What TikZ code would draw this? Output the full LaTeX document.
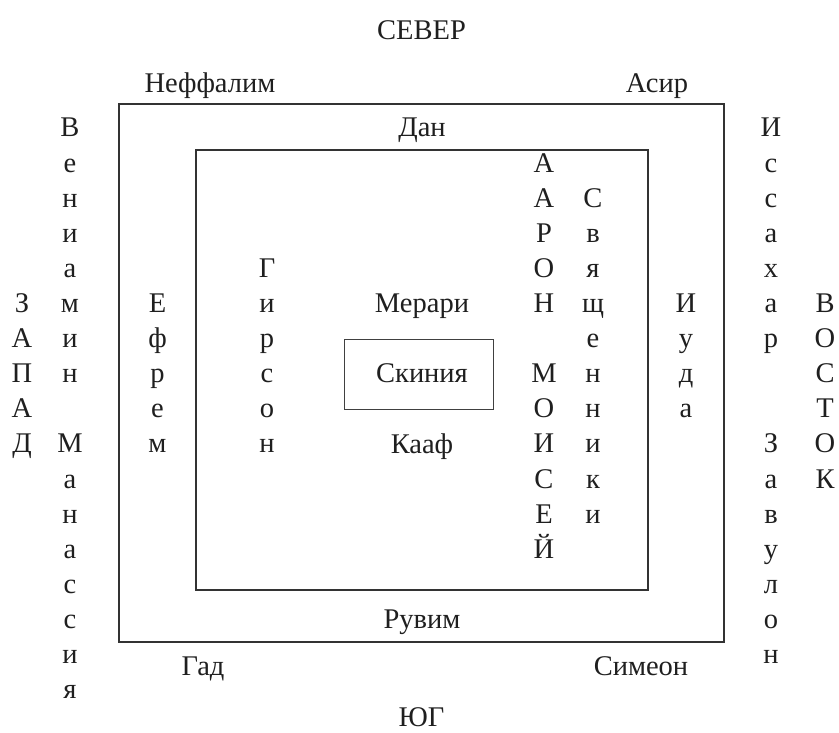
\documentclass[tikz,border=0pt]{standalone}
\usepackage{fontspec}
\setmainfont{Liberation Serif}
\newcommand\vcol[4]{%
  \foreach \l [count=\i from 0] in {#4}{%
    \node[lt] (#1-\i) at (#2,{137+35.1*(#3+\i)}) {\l};%
  }}
\begin{document}
\begin{tikzpicture}[x=1pt,y=-1pt,
  lt/.style={anchor=base,inner sep=0pt,font=\fontsize{28.5}{34}\selectfont,text=black!88},
  frame/.style={draw=black!80,line width=1.2pt},
  thinframe/.style={draw=black!75,line width=0.9pt}]
\useasboundingbox (0,0) rectangle (839,733);
% frames
\draw[frame] (119,104) rectangle (724,642);
\draw[frame] (196,150) rectangle (648,590);
\draw[thinframe] (344,339) rectangle (493,409);
% horizontal labels
\node[lt] (sever) at (421.5,40) {СЕВЕР};
\node[lt] (neffalim) at (210,93) {Неффалим};
\node[lt] (asir) at (657,93) {Асир};
\node[lt] (dan) at (422,137) {Дан};
\node[lt] (merari) at (422,312.5) {Мерари};
\node[lt] (skinia) at (422,382.7) {Скиния};
\node[lt] (kaaf) at (422,453) {Кааф};
\node[lt] (ruvim) at (422,628) {Рувим};
\node[lt] (gad) at (203,675) {Гад};
\node[lt] (simeon) at (641,675) {Симеон};
\node[lt] (yug) at (421.5,726) {ЮГ};
% vertical columns
\vcol{zapad}{22}{5}{З,А,П,А,Д}
\vcol{veniamin}{70}{0}{В,е,н,и,а,м,и,н}
\vcol{manassia}{70}{9}{М,а,н,а,с,с,и,я}
\vcol{efrem}{157.5}{5}{Е,ф,р,е,м}
\vcol{girson}{267}{4}{Г,и,р,с,о,н}
\vcol{aaron}{544}{1}{А,А,Р,О,Н}
\vcol{moisei}{544}{7}{М,О,И,С,Е,Й}
\vcol{sviasch}{593}{2}{С,в,я,щ,е,н,н,и,к,и}
\vcol{iuda}{686}{5}{И,у,д,а}
\vcol{issahar}{771}{0}{И,с,с,а,х,а,р}
\vcol{zavulon}{771}{9}{З,а,в,у,л,о,н}
\vcol{vostok}{825}{5}{В,О,С,Т,О,К}
\end{tikzpicture}
\end{document}
